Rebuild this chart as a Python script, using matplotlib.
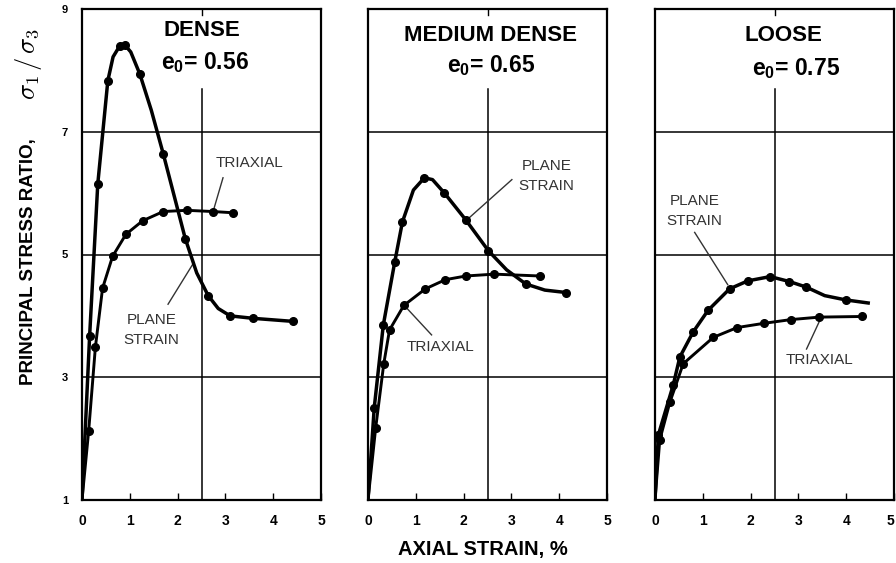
import matplotlib
matplotlib.use("Agg")
import matplotlib.pyplot as plt

plt.rcParams['font.family'] = ['Liberation Sans', 'DejaVu Sans']
plt.rcParams['mathtext.fontset'] = 'custom'
plt.rcParams['mathtext.rm'] = 'Liberation Sans:bold'
plt.rcParams['mathtext.bf'] = 'Liberation Sans:bold'
plt.rcParams['mathtext.it'] = 'Liberation Sans:bold'

# ---- data (axial strain %, principal stress ratio) ----
panel_names = ["DENSE", "MEDIUM DENSE", "LOOSE"]
void_ratios = ["0.56", "0.65", "0.75"]

dense_ps_x = [0, 0.16, 0.33, 0.54, 0.65, 0.79, 0.90, 1.02, 1.21, 1.45, 1.70, 2.16, 2.40, 2.64, 2.85, 3.10, 3.58, 4.42]
dense_ps_y = [1, 3.68, 6.15, 7.83, 8.22, 8.40, 8.41, 8.30, 7.94, 7.35, 6.64, 5.26, 4.70, 4.33, 4.12, 4.00, 3.96, 3.91]
dense_ps_marked = [1, 2, 3, 5, 6, 8, 10, 11, 13, 15, 16, 17]
dense_tx_x = [0, 0.14, 0.28, 0.43, 0.64, 0.92, 1.27, 1.70, 2.19, 2.74, 3.16]
dense_tx_y = [1, 2.13, 3.49, 4.45, 4.97, 5.33, 5.55, 5.70, 5.72, 5.70, 5.68]
dense_tx_marked = [1, 2, 3, 4, 5, 6, 7, 8, 9, 10]

med_ps_x = [0, 0.13, 0.32, 0.56, 0.72, 0.95, 1.18, 1.35, 1.60, 2.04, 2.52, 2.90, 3.30, 3.70, 4.15]
med_ps_y = [1, 2.50, 3.85, 4.88, 5.53, 6.05, 6.25, 6.22, 6.00, 5.57, 5.06, 4.75, 4.52, 4.42, 4.38]
med_ps_marked = [1, 2, 3, 4, 6, 8, 9, 10, 12, 14]
med_tx_x = [0, 0.16, 0.33, 0.45, 0.75, 1.20, 1.62, 2.05, 2.64, 3.59]
med_tx_y = [1, 2.17, 3.22, 3.77, 4.17, 4.44, 4.59, 4.65, 4.68, 4.65]
med_tx_marked = [1, 2, 3, 4, 5, 6, 7, 8, 9]

loose_ps_x = [0, 0.07, 0.38, 0.52, 0.80, 1.11, 1.56, 1.94, 2.41, 2.81, 3.16, 3.55, 3.99, 4.46]
loose_ps_y = [1, 2.06, 2.87, 3.33, 3.74, 4.09, 4.44, 4.57, 4.64, 4.56, 4.47, 4.33, 4.26, 4.21]
loose_ps_marked = [1, 2, 3, 4, 5, 6, 7, 8, 9, 10, 12]
loose_tx_x = [0, 0.10, 0.31, 0.59, 1.22, 1.72, 2.29, 2.85, 3.44, 4.33]
loose_tx_y = [1, 1.98, 2.59, 3.22, 3.65, 3.81, 3.88, 3.94, 3.98, 3.99]
loose_tx_marked = [1, 2, 3, 4, 5, 6, 7, 8, 9]

x_ticks = [0, 1, 2, 3, 4, 5]
y_ticks = [1, 3, 5, 7, 9]
grid_y = [3, 5, 7]

series = [
    (dense_ps_x, dense_ps_y, dense_ps_marked, dense_tx_x, dense_tx_y, dense_tx_marked),
    (med_ps_x, med_ps_y, med_ps_marked, med_tx_x, med_tx_y, med_tx_marked),
    (loose_ps_x, loose_ps_y, loose_ps_marked, loose_tx_x, loose_tx_y, loose_tx_marked),
]

# annotation layout per panel: (label, text_x, text_y, line_start, line_end)
annotations = [
    [("TRIAXIAL", 3.51, 6.49, (2.95, 6.25), (2.75, 5.72)),
     ("PLANE\nSTRAIN", 1.46, 3.77, (1.80, 4.19), (2.34, 4.87))],
    [("PLANE\nSTRAIN", 3.74, 6.28, (3.01, 6.22), (2.12, 5.60)),
     ("TRIAXIAL", 1.51, 3.49, (1.33, 3.69), (0.83, 4.11))],
    [("PLANE\nSTRAIN", 0.83, 5.71, (0.83, 5.36), (1.52, 4.51)),
     ("TRIAXIAL", 3.44, 3.28, (3.17, 3.46), (3.48, 3.98))],
]
title_pos = [((2.5, 8.65), (2.57, 8.12)),
             ((2.57, 8.57), (2.57, 8.08)),
             ((2.69, 8.57), (2.95, 8.03))]

W, H = 896, 563
fig = plt.figure(figsize=(W / 100, H / 100), dpi=100)
lefts = [82, 368, 655]
ax_w = 239
bottom_px, top_px = 500, 9

for i, left in enumerate(lefts):
    ax = fig.add_axes([left / W, 1 - bottom_px / H, ax_w / W, (bottom_px - top_px) / H])
    ps_x, ps_y, ps_m, tx_x, tx_y, tx_m = series[i]
    for gy in grid_y:
        ax.axhline(gy, color='black', lw=1.1, zorder=1)
    ax.plot([2.5, 2.5], [1, 7.7], color='black', lw=1.1, zorder=1)
    ax.plot([2.5, 2.5], [9, 8.9], color='black', lw=1.0, zorder=1)
    ax.plot(ps_x, ps_y, color='black', lw=2.5, marker='o', ms=5.5,
            markevery=ps_m, zorder=3, solid_joinstyle='round')
    ax.plot(tx_x, tx_y, color='black', lw=2.1, marker='o', ms=5.5,
            markevery=tx_m, zorder=3, solid_joinstyle='round')
    for label, tx, ty, p0, p1 in annotations[i]:
        ax.text(tx, ty, label, ha='center', va='center', fontsize=11,
                color='#333333', linespacing=1.6)
        ax.plot([p0[0], p1[0]], [p0[1], p1[1]], color='#333333', lw=1.0, zorder=2)
    (t1x, t1y), (t2x, t2y) = title_pos[i]
    ax.text(t1x, t1y, panel_names[i], ha='center', va='center', fontsize=16,
            fontweight='bold')
    ax.text(t2x, t2y, r"e$_{0}$= " + void_ratios[i], ha='center', va='center',
            fontsize=16.5, fontweight='bold')
    ax.set_xlim(0, 5)
    ax.set_ylim(1, 9)
    ax.set_xticks(x_ticks)
    ax.set_xticklabels([str(t) for t in x_ticks], fontsize=10, fontweight='bold')
    ax.tick_params(axis='x', direction='in', length=5, width=1.0, pad=10, top=False)
    if i == 2:
        ax.get_xticklabels()[-1].set_horizontalalignment('right')
    ax.set_yticks(y_ticks)
    if i == 0:
        ax.set_yticklabels([str(t) for t in y_ticks], fontsize=8, fontweight='bold')
        ax.tick_params(axis='y', length=0, pad=10)
    else:
        ax.set_yticklabels([])
        ax.tick_params(axis='y', length=0)
    for sp in ax.spines.values():
        sp.set_linewidth(1.6)

fig.text(483 / W, 1 - 549 / H, "AXIAL STRAIN, %", ha='center', va='center',
         fontsize=14.5, fontweight='bold')
fig.text(28 / W, 1 - 262 / H, "PRINCIPAL STRESS RATIO,", rotation=90,
         ha='center', va='center', fontsize=13.5, fontweight='bold')
fig.text(28 / W, 1 - 64 / H, r"$\sigma_1\,/\,\sigma_3$", rotation=90,
         ha='center', va='center', fontsize=19, math_fontfamily='cm')

fig.savefig("out.png", dpi=100, facecolor='white')
